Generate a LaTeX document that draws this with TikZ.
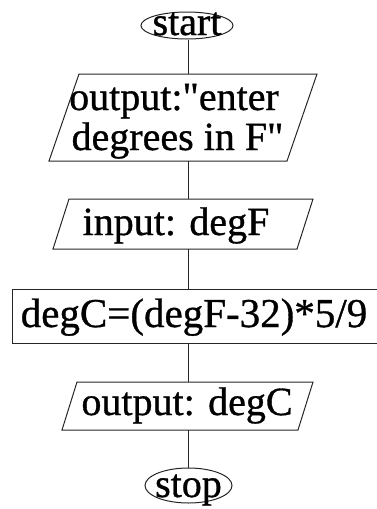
\documentclass[tikz,border=0pt]{standalone}
\usepackage{fontspec}
\setmainfont{Liberation Serif}[Ligatures=TeXOff,FakeBold=0.8]
\usetikzlibrary{shapes.geometric}
\begin{document}
\begin{tikzpicture}[x=1pt,y=-1pt,
  ln/.style={draw=black!85,line width=1pt},
  frame/.style={draw=none,inner sep=0pt,outer sep=0pt},
  term/.style={ellipse,draw=black!85,line width=1pt,inner sep=0pt},
  txt/.style={anchor=base,inner sep=0pt,font=\fontsize{40}{41}\selectfont},
  ]
\useasboundingbox (0,0) rectangle (376,509);
% terminals
\node[term,minimum width=92pt,minimum height=27pt] (start) at (187,25.5) {};
\node[txt] (tstart) at (187,35) {start};
\node[term,minimum width=87pt,minimum height=35pt] (stop) at (188.5,485.5) {};
\node[txt] (tstop) at (188.5,497) {stop};
% parallelogram 1
\node[frame,minimum width=268pt,minimum height=87pt] (p1) at (183,117.5) {};
\draw[ln] ([xshift=30pt]p1.north west) -- (p1.north east) -- ([xshift=-30pt]p1.south east) -- (p1.south west) -- cycle;
\node[txt] (t1a) at (174,110) {output:"enter};
\node[txt] (t1b) at (177.5,150) {degrees in F"};
% parallelogram 2
\node[frame,minimum width=260pt,minimum height=50pt] (p2) at (183,224) {};
\draw[ln] ([xshift=16pt]p2.north west) -- (p2.north east) -- ([xshift=-16pt]p2.south east) -- (p2.south west) -- cycle;
\node[txt] (t2) at (176,235) {input: degF};
% process box
\node[frame,draw=black!85,line width=1pt,minimum width=365pt,minimum height=54pt] (r) at (194.5,316) {};
\node[txt,font=\fontsize{41}{41}\selectfont] (tr) at (194,327) {degC=(degF-32)*5/9};
% parallelogram 3
\node[frame,minimum width=251pt,minimum height=48pt] (p3) at (187.5,406) {};
\draw[ln] ([xshift=15pt]p3.north west) -- (p3.north east) -- ([xshift=-15pt]p3.south east) -- (p3.south west) -- cycle;
\node[txt] (t3) at (187,415) {output: degC};
% connectors
\coordinate (cx) at (188,0);
\draw[ln] (start.south -| cx) -- (p1.north -| cx);
\draw[ln] (p1.south -| cx) -- (p2.north -| cx);
\draw[ln] (p2.south -| cx) -- (r.north -| cx);
\draw[ln] (r.south -| cx) -- (p3.north -| cx);
\draw[ln] (p3.south -| cx) -- (stop.north -| cx);
\end{tikzpicture}
\end{document}
